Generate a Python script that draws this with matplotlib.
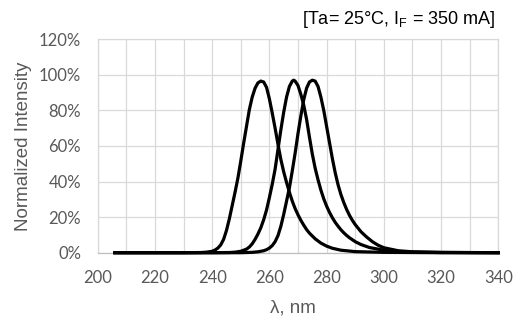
import matplotlib
matplotlib.use("Agg")
import matplotlib.pyplot as plt
from matplotlib.ticker import FuncFormatter, MultipleLocator

# ---- data ----
wl1 = [206, 230, 236, 238, 240, 241, 242, 243, 244, 245, 246, 247, 248, 249, 250, 251, 252, 253,
       254, 255, 256, 257, 258, 259, 260, 261, 262, 263, 264, 265, 266, 267, 268, 269, 270,
       271, 272, 273, 274, 276, 278, 280, 282, 285, 290, 300, 320, 340]
int1 = [0, 0, 0.1, 0.3, 0.8, 1.5, 2.6, 4.4, 7.5, 12.5, 19, 26.5, 34, 42, 51.5, 61.5, 71, 80.5,
        87.5, 92.5, 95.5, 96.5, 96, 93, 86.5, 78.5, 70, 61, 52.5, 45.5, 39.5, 34, 29, 24.8, 21.3,
        18.2, 15.5, 13, 11, 7.8, 5.4, 3.7, 2.5, 1.4, 0.6, 0.2, 0, 0]

wl2 = [206, 240, 246, 248, 250, 252, 253, 254, 255, 256, 257, 258, 259, 260, 261, 262, 263, 264,
       265, 266, 267, 268, 268.5, 269, 270, 271, 272, 273, 274, 275, 276, 277, 278, 279, 280,
       281, 282, 283, 284, 285, 286, 287, 288, 290, 292, 295, 300, 305, 310, 320, 340]
int2 = [0, 0, 0.1, 0.3, 0.8, 2, 3.2, 5, 7.5, 10.5, 14, 18.5, 24, 31, 38.5, 47, 58, 69,
        79, 87.5, 93.5, 96.5, 97, 96.5, 94, 89, 83, 75, 65, 55.5, 47.5, 41, 35.2, 30.3, 26.2,
        22.7, 19.7, 17.1, 14.9, 12.9, 11.2, 9.7, 8.4, 6.2, 4.6, 2.9, 1.4, 0.7, 0.35, 0.1, 0]

wl3 = [206, 250, 254, 256, 258, 259, 260, 261, 262, 263, 264, 265, 266, 267, 268, 269, 270, 271, 272,
       273, 274, 275, 276, 277, 278, 279, 280, 281, 282, 283, 284, 285, 286, 287, 288, 289,
       290, 292, 294, 296, 298, 300, 305, 310, 320, 340]
int3 = [0, 0, 0.2, 0.5, 1.1, 1.7, 2.6, 4, 6.2, 9.6, 14.8, 21.5, 29, 36.5, 46, 56, 67, 77, 86,
        92.5, 96, 97, 96.5, 93.5, 87.5, 80, 71, 62, 53, 45, 38.2, 32.7, 28.2, 24.3, 21, 18.2,
        15.8, 11.8, 8.8, 6.2, 4.2, 2.8, 1.1, 0.5, 0.2, 0]

x_ticks = [200, 220, 240, 260, 280, 300, 320, 340]
y_ticks = [0, 20, 40, 60, 80, 100, 120]

# ---- figure ----
fig = plt.figure(figsize=(5.24, 3.22), dpi=100)
ax = fig.add_axes([97.7 / 524, 1 - 252.7 / 322, (498.3 - 97.7) / 524, (252.7 - 39.3) / 322])

for wl, it in [(wl1, int1), (wl2, int2), (wl3, int3)]:
    ax.plot(wl, it, color="black", lw=2.3, solid_joinstyle="round", clip_on=False, zorder=3)

ax.set_xlim(200, 340)
ax.set_ylim(0, 120)
ax.set_xticks(x_ticks)
ax.xaxis.set_minor_locator(MultipleLocator(10))
ax.set_yticks(y_ticks)
ax.yaxis.set_major_formatter(FuncFormatter(lambda v, p: f"{int(v)}%"))

grid_c = "#d9d9d9"
ax.grid(True, which="both", axis="x", color=grid_c, lw=0.9)
ax.grid(True, which="major", axis="y", color=grid_c, lw=0.9)
ax.set_axisbelow(True)
for s in ["left", "top", "right"]:
    ax.spines[s].set_color(grid_c)
    ax.spines[s].set_linewidth(0.9)
ax.spines["bottom"].set_color("#bfbfbf")
ax.spines["bottom"].set_linewidth(0.9)

tick_c = "#595959"
ax.tick_params(axis="both", which="both", length=0, labelcolor=tick_c, labelsize=12)
ax.tick_params(axis="y", pad=12)
ax.tick_params(axis="x", pad=12.5)
for lbl in ax.get_xticklabels() + ax.get_yticklabels():
    lbl.set_family("Lato")

ax.set_ylabel("Normalized Intensity", family="Liberation Sans", fontsize=13.5,
              color=tick_c, labelpad=5)
ax.set_xlabel("λ, nm", family="Liberation Sans", fontsize=13.5, color=tick_c, labelpad=10)
ax.xaxis.label.set_x((292.5 - 97.7) / 400.6)

fig.text(495 / 524, 1 - 20 / 322, r"[Ta= 25°C, I$_\mathregular{F}$ = 350 mA]",
         family="Liberation Sans", fontsize=13, color="black", ha="right", va="center")

fig.savefig("out.png", dpi=100)
